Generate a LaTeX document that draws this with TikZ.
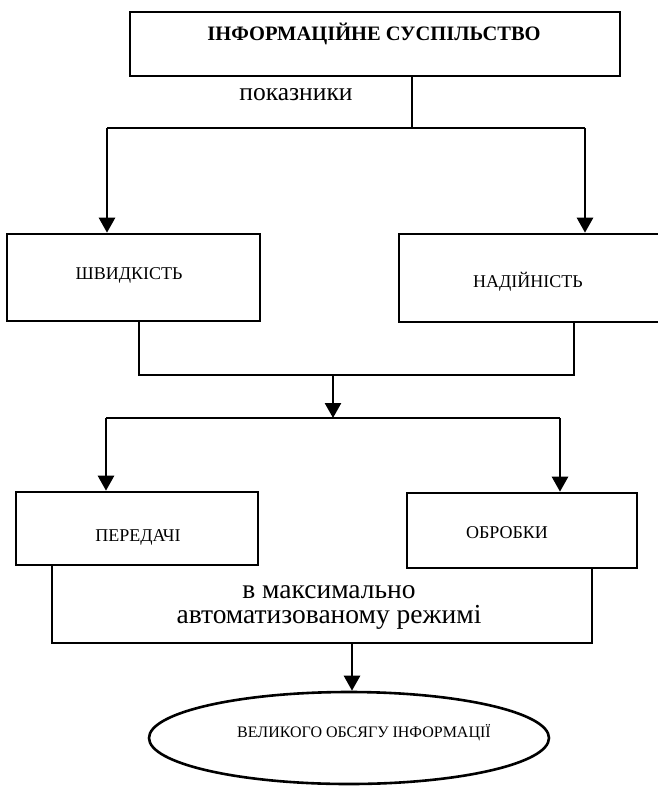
\documentclass[tikz,border=0pt]{standalone}
\usepackage{fontspec}
\setmainfont{Liberation Serif}
\usetikzlibrary{arrows.meta,shapes.geometric}
\begin{document}
\begin{tikzpicture}[x=1pt,y=-1pt,
  box/.style={draw,line width=2.6pt,rectangle,inner sep=0pt},
  conn/.style={line width=2.6pt},
  arr/.style={line width=2.6pt,-{Triangle[length=15pt,width=16pt]}},
  lbl/.style={font=\fontsize{18}{20}\selectfont,inner sep=0pt}]
\useasboundingbox (0,0) rectangle (657,788);
% boxes
\node[box,minimum width=490pt,minimum height=64pt] (top) at (375,44) {};
\node[font=\bfseries\fontsize{20.5}{24}\selectfont,inner sep=0pt] (toptxt) at (374,34) {ІНФОРМАЦІЙНЕ СУСПІЛЬСТВО};
\node[font=\fontsize{25.5}{28}\selectfont,inner sep=0pt] (pok) at (296,95) {показники};
\node[box,minimum width=253pt,minimum height=87pt] (shv) at (133.5,277.5) {};
\node[lbl] (shvtxt) at (129,275) {ШВИДКІСТЬ};
\node[box,minimum width=263pt,minimum height=88pt] (nad) at (530.5,278) {};
\node[lbl] (nadtxt) at (528,282) {НАДІЙНІСТЬ};
\node[box,minimum width=242pt,minimum height=73pt] (per) at (137,528.5) {};
\node[lbl] (pertxt) at (138,537) {ПЕРЕДАЧІ};
\node[box,minimum width=230pt,minimum height=75pt] (obr) at (522,530.5) {};
\node[lbl] (obrtxt) at (507,533) {ОБРОБКИ};
\node[draw,ellipse,line width=2.6pt,minimum width=400pt,minimum height=92pt,inner sep=0pt] (ell) at (349,738) {};
\node[font=\fontsize{16}{18}\selectfont,inner sep=0pt] (elltxt) at (364,733) {ВЕЛИКОГО ОБСЯГУ ІНФОРМАЦІЇ};
\node[align=center,font=\fontsize{27.5}{25}\selectfont,inner sep=0pt] (mode) at (329,607) {в максимально\\автоматизованому режимі};
% connectors
\coordinate (a) at (412,128);
\coordinate (al) at (107,128);
\coordinate (ar) at (585,128);
\draw[conn] (top.south -| a) -- (a);
\draw[conn] (al) -- (ar);
\draw[arr] (al) -- (shv.north -| al);
\draw[arr] (ar) -- (nad.north -| ar);
\coordinate (bl) at (139,375);
\coordinate (br) at (574,375);
\draw[conn] (shv.south -| bl) -- (bl) -- (br) -- (nad.south -| br);
\coordinate (bm) at (333,375);
\coordinate (cm) at (333,418);
\coordinate (cl) at (106,418);
\coordinate (cr) at (560,418);
\draw[arr] (bm) -- (cm);
\draw[conn] (cl) -- (cr);
\draw[arr] (cl) -- (per.north -| cl);
\draw[arr] (cr) -- (obr.north -| cr);
\coordinate (dl) at (52,643);
\coordinate (dr) at (592,643);
\draw[conn] (per.south -| dl) -- (dl) -- (dr) -- (obr.south -| dr);
\coordinate (dm) at (352,643);
\draw[arr] (dm) -- (ell.north -| dm);
\end{tikzpicture}
\end{document}
